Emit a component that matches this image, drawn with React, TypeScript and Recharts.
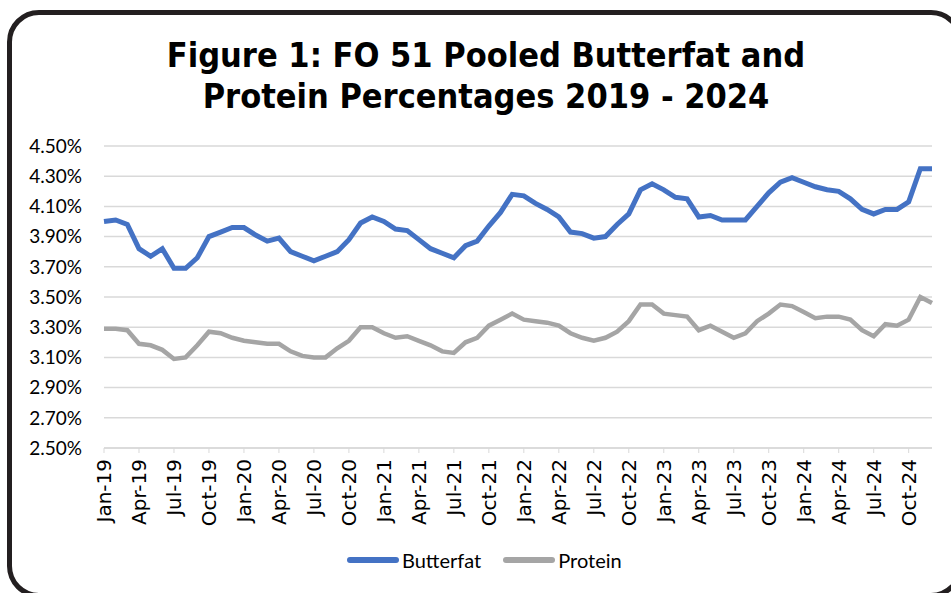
import React from "react"
import { LineChart, Line, CartesianGrid, XAxis, YAxis } from "recharts"

const months = ["Jan", "Feb", "Mar", "Apr", "May", "Jun", "Jul", "Aug", "Sep", "Oct", "Nov", "Dec"]
const years = ["19", "20", "21", "22", "23", "24"]

const butterfat = [
    4.00, 4.01, 3.98, 3.82, 3.77, 3.82, 3.69, 3.69, 3.76, 3.90, 3.93, 3.96,
    3.96, 3.91, 3.87, 3.89, 3.80, 3.77, 3.74, 3.77, 3.80, 3.88, 3.99, 4.03,
    4.00, 3.95, 3.94, 3.88, 3.82, 3.79, 3.76, 3.84, 3.87, 3.97, 4.06, 4.18,
    4.17, 4.12, 4.08, 4.03, 3.93, 3.92, 3.89, 3.90, 3.98, 4.05, 4.21, 4.25,
    4.21, 4.16, 4.15, 4.03, 4.04, 4.01, 4.01, 4.01, 4.10, 4.19, 4.26, 4.29,
    4.26, 4.23, 4.21, 4.20, 4.15, 4.08, 4.05, 4.08, 4.08, 4.13, 4.35, 4.35,
]

const protein = [
    3.29, 3.29, 3.28, 3.19, 3.18, 3.15, 3.09, 3.10, 3.18, 3.27, 3.26, 3.23,
    3.21, 3.20, 3.19, 3.19, 3.14, 3.11, 3.10, 3.10, 3.16, 3.21, 3.30, 3.30,
    3.26, 3.23, 3.24, 3.21, 3.18, 3.14, 3.13, 3.20, 3.23, 3.31, 3.35, 3.39,
    3.35, 3.34, 3.33, 3.31, 3.26, 3.23, 3.21, 3.23, 3.27, 3.34, 3.45, 3.45,
    3.39, 3.38, 3.37, 3.28, 3.31, 3.27, 3.23, 3.26, 3.34, 3.39, 3.45, 3.44,
    3.40, 3.36, 3.37, 3.37, 3.35, 3.28, 3.24, 3.32, 3.31, 3.35, 3.50, 3.46,
]

const yTicks = [2.5, 2.7, 2.9, 3.1, 3.3, 3.5, 3.7, 3.9, 4.1, 4.3, 4.5]

const data = years.flatMap((yr, yi) =>
    months.map((m, mi) => ({
        month: `${m}-${yr}`,
        butterfat: butterfat[yi * 12 + mi],
        protein: protein[yi * 12 + mi],
    }))
)

const BLUE = "#4472C4"
const GRAY = "#A5A5A5"
const labelFont = "Lato, 'Open Sans', sans-serif"

const MonthTick = (props: any) => {
    const { x, y, payload } = props
    return (
        <text
            x={0}
            y={0}
            transform={`translate(${x + 7},${y + 4}) rotate(-90)`}
            textAnchor="end"
            style={{ fontFamily: "'DejaVu Sans', Verdana, sans-serif", fontSize: 20 }}
            fill="#000"
        >
            {payload.value}
        </text>
    )
}

const LegendItem = ({ color, label, gap }: { color: string; label: string; gap: number }) => (
    <span style={{ display: "inline-flex", alignItems: "center", marginRight: gap }}>
        <span style={{ width: 52, height: 6, background: color, borderRadius: 3, marginRight: 3 }} />
        <span>{label}</span>
    </span>
)

export default function App() {
    return (
        <div style={{ position: "absolute", left: 0, top: 0, width: 951, height: 593, overflow: "hidden", background: "#fff" }}>
            <div
                style={{
                    position: "absolute",
                    left: 7,
                    top: 10,
                    width: 956,
                    height: 588,
                    border: "5px solid #231f20",
                    borderRadius: 32,
                    boxSizing: "border-box",
                }}
            />
            <div
                style={{
                    position: "absolute",
                    left: 0,
                    top: 35,
                    width: 972,
                    textAlign: "center",
                    fontFamily: "'DejaVu Sans Condensed', 'DejaVu Sans', sans-serif",
                    fontWeight: "bold",
                    fontSize: 34,
                    lineHeight: "41px",
                    color: "#000",
                }}
            >
                Figure 1: FO 51 Pooled Butterfat and
                <br />
                Protein Percentages 2019 - 2024
            </div>
            <div style={{ position: "absolute", left: 0, top: 0 }}>
                <LineChart
                    width={951}
                    height={593}
                    data={data}
                    margin={{ top: 146, right: 19, left: 0, bottom: 45 }}
                >
                    <CartesianGrid vertical={false} stroke="#d9d9d9" strokeWidth={1.5} />
                    <XAxis
                        dataKey="month"
                        interval={2}
                        tick={<MonthTick />}
                        tickLine={{ stroke: "#d9d9d9" }}
                        tickSize={5}
                        axisLine={{ stroke: "#d9d9d9", strokeWidth: 1.5 }}
                        height={100}
                    />
                    <YAxis
                        domain={[2.5, 4.5]}
                        ticks={yTicks}
                        interval={0}
                        width={104}
                        tickSize={0}
                        tickMargin={22}
                        axisLine={false}
                        tickFormatter={(v: number) => `${v.toFixed(2)}%`}
                        tick={{ fill: "#000", fontSize: 19, fontFamily: labelFont }}
                    />
                    <Line
                        type="linear"
                        dataKey="butterfat"
                        name="Butterfat"
                        stroke={BLUE}
                        strokeWidth={5}
                        dot={false}
                        isAnimationActive={false}
                    />
                    <Line
                        type="linear"
                        dataKey="protein"
                        name="Protein"
                        stroke={GRAY}
                        strokeWidth={4.5}
                        dot={false}
                        isAnimationActive={false}
                    />
                </LineChart>
            </div>
            <div
                style={{
                    position: "absolute",
                    left: 347,
                    top: 548,
                    fontFamily: labelFont,
                    fontSize: 20,
                    color: "#000",
                    display: "flex",
                }}
            >
                <LegendItem color={BLUE} label="Butterfat" gap={22} />
                <LegendItem color={GRAY} label="Protein" gap={0} />
            </div>
        </div>
    )
}
